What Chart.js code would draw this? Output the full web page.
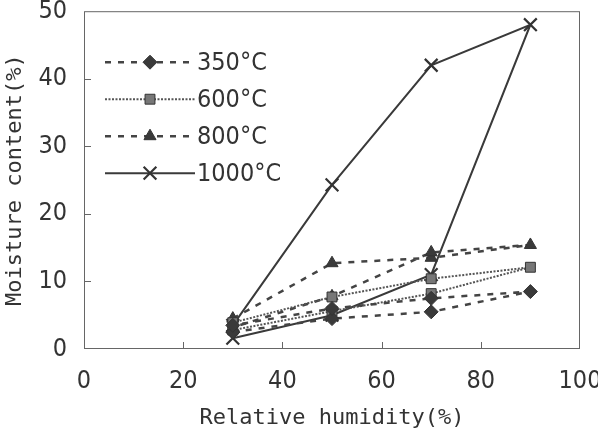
<!DOCTYPE html>
<html>
<head>
<meta charset="utf-8">
<script src="https://cdn.jsdelivr.net/npm/chart.js@4.4.1/dist/chart.umd.min.js"></script>
<style>
  html, body { margin: 0; padding: 0; background: #fff; }
  #wrap { width: 598px; height: 435px; }
</style>
</head>
<body>
<div id="wrap"><canvas id="chart" width="598" height="435"></canvas></div>
<script>
// relative humidity steps: adsorption 30->90 then desorption back to 30
const humidity = [30, 50, 70, 90, 70, 50, 30];
const moisture350 = [2.5, 4.5, 5.5, 8.5, 7.5, 6.0, 3.5];
const moisture600 = [2.8, 5.6, 8.2, 12.1, 10.4, 7.7, 3.9];
const moisture800 = [4.5, 12.7, 13.5, 15.4, 14.3, 7.8, 3.2];
const moisture1000 = [3.5, 24.3, 42.0, 48.0, 11.0, 5.0, 1.6];
const seriesLabels = ['350°C', '600°C', '800°C', '1000°C'];
const xTicks = [0, 20, 40, 60, 80, 100];
const yTicks = [0, 10, 20, 30, 40, 50];

const tickFont = { family: "'DejaVu Sans Condensed', 'Liberation Sans Narrow', 'Liberation Sans'", size: 25 };
const titleFont = { family: "'DejaVu Sans Mono', monospace", size: 22 };
const ink = '#333';

function toPoints(ys) {
    return humidity.map((x, i) => ({ x: x, y: ys[i] }));
}

const datasets = [
    { label: seriesLabels[0], data: toPoints(moisture350), pointStyle: 'rectRot', pointRadius: 7,
      backgroundColor: '#3a3a3a', borderColor: '#444', borderWidth: 2.5, borderDash: [6, 7] },
    { label: seriesLabels[1], data: toPoints(moisture600), pointStyle: 'rect', pointRadius: 7,
      backgroundColor: '#777', borderColor: '#555', borderWidth: 2, borderDash: [2, 1.5] },
    { label: seriesLabels[2], data: toPoints(moisture800), pointStyle: 'triangle', pointRadius: 7,
      backgroundColor: '#3a3a3a', borderColor: '#444', borderWidth: 2.5, borderDash: [6, 7] },
    { label: seriesLabels[3], data: toPoints(moisture1000), pointStyle: 'crossRot', pointRadius: 9,
      backgroundColor: '#333', borderColor: '#3a3a3a', borderWidth: 2, borderDash: [] }
];
datasets.forEach(d => {
    d.showLine = true;
    d.tension = 0;
    d.pointBorderColor = '#333';
    d.pointBorderWidth = d.pointStyle === 'crossRot' ? 2.2 : 1;
});

// frame + inward tick marks
const framePlugin = {
    id: 'frame',
    afterDatasetsDraw(chart) {
        const ctx = chart.ctx;
        const a = chart.chartArea;
        const xs = chart.scales.x, ys = chart.scales.y;
        ctx.save();
        ctx.strokeStyle = '#666';
        ctx.lineWidth = 1;
        ctx.setLineDash([]);
        ctx.strokeRect(a.left + 0.5, a.top + 0.5, a.right - a.left - 1, a.bottom - a.top - 1);
        ctx.beginPath();
        xTicks.slice(1, -1).forEach(v => {
            const px = Math.round(xs.getPixelForValue(v)) + 0.5;
            ctx.moveTo(px, a.bottom);
            ctx.lineTo(px, a.bottom - 7);
        });
        yTicks.slice(1, -1).forEach(v => {
            const py = Math.round(ys.getPixelForValue(v)) + 0.5;
            ctx.moveTo(a.left, py);
            ctx.lineTo(a.left + 7, py);
        });
        ctx.stroke();
        ctx.restore();
    }
};

// legend drawn inside the plot, Excel style: line sample with marker in the middle
const legendPlugin = {
    id: 'insideLegend',
    afterDatasetsDraw(chart) {
        const ctx = chart.ctx;
        const a = chart.chartArea;
        ctx.save();
        chart.data.datasets.forEach((ds, i) => {
            const y = a.top + 51 + i * 37;
            const x0 = a.left + 21, x1 = a.left + 111;
            ctx.strokeStyle = ds.borderColor;
            ctx.lineWidth = ds.borderWidth;
            ctx.setLineDash(ds.borderDash);
            ctx.beginPath();
            ctx.moveTo(x0, y);
            ctx.lineTo(x1, y);
            ctx.stroke();
            ctx.setLineDash([]);
            ctx.fillStyle = ds.backgroundColor;
            ctx.strokeStyle = ds.pointBorderColor;
            ctx.lineWidth = ds.pointBorderWidth;
            Chart.helpers.drawPoint(ctx, { pointStyle: ds.pointStyle, radius: ds.pointRadius, rotation: 0, borderWidth: ds.pointBorderWidth }, (x0 + x1) / 2, y);
            ctx.fillStyle = ink;
            ctx.font = tickFont.size + 'px ' + tickFont.family;
            ctx.textBaseline = 'middle';
            ctx.textAlign = 'left';
            ctx.fillText(ds.label, x1 + 2, y + 1);
        });
        ctx.restore();
    }
};

new Chart(document.getElementById('chart'), {
    type: 'scatter',
    data: { datasets: datasets },
    options: {
        responsive: false,
        animation: false,
        layout: { padding: { top: 11, right: 18, left: 0, bottom: 0 } },
        plugins: { legend: { display: false }, tooltip: { enabled: false } },
        scales: {
            x: {
                type: 'linear', min: 0, max: 100,
                afterBuildTicks(s) { s.ticks = xTicks.map(v => ({ value: v })); },
                afterFit(s) { s.height = 86; s.paddingLeft = 0; s.paddingRight = 0; },
                grid: { display: false, drawTicks: false },
                border: { display: false },
                ticks: { font: tickFont, color: ink, padding: 17, maxRotation: 0 },
                title: { display: true, text: 'Relative humidity(%)', font: titleFont, color: ink, padding: { top: 0, bottom: 4 } }
            },
            y: {
                type: 'linear', min: 0, max: 50,
                afterBuildTicks(s) { s.ticks = yTicks.map(v => ({ value: v })); },
                afterFit(s) { s.width = 84; s.paddingTop = 0; s.paddingBottom = 0; },
                grid: { display: false, drawTicks: false },
                border: { display: false },
                ticks: { font: tickFont, color: ink, padding: 17 },
                title: { display: true, text: 'Moisture content(%)', font: titleFont, color: ink, padding: { top: 2, bottom: 0 } }
            }
        }
    },
    plugins: [framePlugin, legendPlugin]
});
</script>
</body>
</html>
